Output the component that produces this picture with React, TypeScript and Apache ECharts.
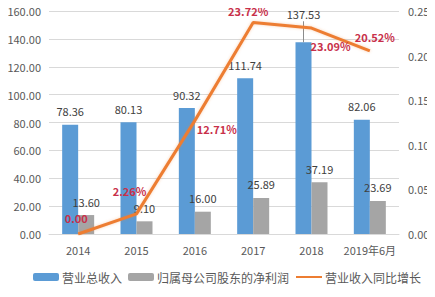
import React, { useEffect, useRef } from "react";
import * as echarts from "echarts";

const categories = ["2014", "2015", "2016", "2017", "2018", "2019年6月"];
const revenue = [78.36, 80.13, 90.32, 111.74, 137.53, 82.06];
const netProfit = [13.6, 9.1, 16.0, 25.89, 37.19, 23.69];
const revenueGrowth = [0, 0.0226, 0.1271, 0.2372, 0.2309, 0.2052];
const growthLabelOffsets: [number, number][] = [
  [-2, -16],
  [-7, -23],
  [22, 8],
  [-5, -11],
  [19, 18],
  [5, -14],
];
// index of the revenue bar whose label sits on a short leader line
const leaderIndex = 4;
const leftTicks = { min: 0, max: 160, interval: 20 };
const rightTicks = { min: 0, max: 0.25, interval: 0.05 };

const FONT = "'Noto Sans CJK SC', 'Noto Sans', sans-serif";
const TEXT = "#595959";

export default function App() {
  const ref = useRef<HTMLDivElement>(null);
  useEffect(() => {
    if (!ref.current) return;
    const chart = echarts.init(ref.current, undefined, { renderer: "svg" });
    const barLabel = {
      show: true,
      position: "top",
      distance: 8,
      color: "#404040",
      fontSize: 11,
      formatter: (p: any) => Number(p.value).toFixed(2),
    };
    chart.setOption({
      animation: false,
      textStyle: { fontFamily: FONT },
      grid: { left: 49, right: 36, top: 11, bottom: 63 },
      legend: {
        left: 28,
        bottom: 9,
        itemWidth: 26,
        itemHeight: 8,
        itemGap: 6,
        textStyle: { color: TEXT, fontSize: 12, fontFamily: FONT, padding: [0, 0, 0, -2] },
        data: ["营业总收入", "归属母公司股东的净利润", "营业收入同比增长"],
      },
      xAxis: {
        type: "category",
        data: categories,
        axisLine: { lineStyle: { color: "#d9d9d9" } },
        axisTick: { show: false },
        axisLabel: { color: TEXT, fontSize: 11, margin: 10, interval: 0 },
      },
      yAxis: [
        {
          type: "value",
          ...leftTicks,
          axisLine: { show: false },
          axisTick: { show: false },
          splitLine: { lineStyle: { color: "#d9d9d9" } },
          axisLabel: {
            color: TEXT,
            fontSize: 11,
            margin: 8,
            formatter: (v: number) => v.toFixed(2),
          },
        },
        {
          type: "value",
          ...rightTicks,
          axisLine: { show: false },
          axisTick: { show: false },
          splitLine: { show: false },
          axisLabel: {
            color: TEXT,
            fontSize: 11,
            margin: 9,
            formatter: (v: number) => v.toFixed(2),
          },
        },
      ],
      series: [
        {
          name: "营业总收入",
          type: "bar",
          barWidth: 16,
          barGap: "0%",
          itemStyle: { color: "#5B9BD5" },
          data: revenue.map((v, i) =>
            i === leaderIndex
              ? {
                  value: v,
                  label: {
                    distance: 0,
                    formatter: (p: any) => `{v|${Number(p.value).toFixed(2)}}\n{l|}`,
                    rich: {
                      v: { fontSize: 11, color: "#404040", lineHeight: 14 },
                      l: { width: 1, height: 21, backgroundColor: "#8c8c8c" },
                    },
                  },
                }
              : v
          ),
          label: barLabel,
        },
        {
          name: "归属母公司股东的净利润",
          type: "bar",
          barWidth: 16,
          barGap: "0%",
          itemStyle: { color: "#A5A5A5" },
          data: netProfit,
          label: barLabel,
        },
        {
          name: "营业收入同比增长",
          type: "line",
          yAxisIndex: 1,
          symbol: "circle",
          symbolSize: 1,
          showSymbol: true,
          itemStyle: { color: "rgba(237,125,49,0)" },
          lineStyle: {
            color: "#ED7D31",
            width: 3,
            shadowColor: "rgba(237,125,49,0.35)",
            shadowBlur: 3,
          },
          data: revenueGrowth.map((v, i) => ({
            value: v,
            label: { offset: growthLabelOffsets[i] },
          })),
          label: {
            show: true,
            position: "inside",
            color: "#C8304A",
            fontWeight: "bold",
            fontSize: 11,
            formatter: (p: any) =>
              p.value === 0 ? "0.00" : (p.value * 100).toFixed(2) + "%",
          },
          z: 5,
        },
      ],
    });
    return () => chart.dispose();
  }, []);
  return <div ref={ref} style={{ width: 435, height: 297, marginLeft: -8, marginTop: -8 }} />;
}
